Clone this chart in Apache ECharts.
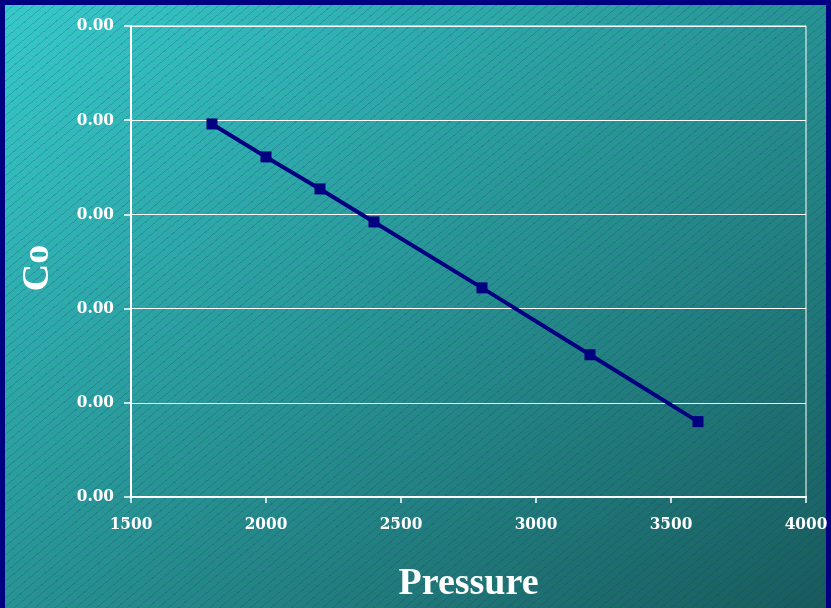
<!DOCTYPE html>
<html>
<head>
<meta charset="utf-8">
<script src="https://cdn.jsdelivr.net/npm/echarts@6/dist/echarts.min.js"></script>
<style>
  html, body { margin: 0; padding: 0; }
  #chart {
    width: 831px; height: 608px;
    background:
      repeating-linear-gradient(140deg, rgba(0,0,0,0) 0px, rgba(0,0,0,0) 5.8px, rgba(20,50,130,0.24) 5.8px, rgba(20,50,130,0.24) 6.6px),
      linear-gradient(to bottom right, #37CACA, #185B5B);
    box-shadow: inset 5px 0 0 #000080, inset -5px 0 0 #000080, inset 0 5px 0 #000080;
  }
</style>
</head>
<body>
<div id="chart"></div>
<script>
const pressure = [1800, 2000, 2200, 2400, 2800, 3200, 3600];
const coValues = [0.00198, 0.001805, 0.001635, 0.00146, 0.00111, 0.000755, 0.0004];
const xTitle = 'Pressure';
const yTitle = 'Co';

const chart = echarts.init(document.getElementById('chart'));
const labelFont = { color: '#ffffff', fontFamily: '"DejaVu Serif Condensed", "DejaVu Serif"', fontWeight: 'bold', fontSize: 17 };
chart.setOption({
  backgroundColor: 'transparent',
  animation: false,
  grid: { left: 131, right: 25, top: 26, bottom: 111, show: true, borderColor: '#ffffff', borderWidth: 1, backgroundColor: 'transparent' },
  xAxis: {
    type: 'value', min: 1500, max: 4000, interval: 500,
    name: xTitle, nameLocation: 'middle', nameGap: 68,
    nameTextStyle: { color: '#ffffff', fontFamily: 'Liberation Serif', fontWeight: 'bold', fontSize: 38 },
    axisLine: { show: true, lineStyle: { color: '#ffffff', width: 2 } },
    axisTick: { show: true, length: 6, lineStyle: { color: '#ffffff', width: 1.5 } },
    axisLabel: Object.assign({ margin: 19, formatter: v => String(v) }, labelFont),
    splitLine: { show: false }
  },
  yAxis: {
    type: 'value', min: 0, max: 0.0025, interval: 0.0005,
    name: yTitle, nameLocation: 'middle', nameGap: 74, nameRotate: 90,
    nameTextStyle: { color: '#ffffff', fontFamily: 'Liberation Serif', fontWeight: 'bold', fontSize: 38, padding: [0, 13, 0, 0] },
    axisLine: { show: true, lineStyle: { color: '#ffffff', width: 2 } },
    axisTick: { show: true, length: 7, lineStyle: { color: '#ffffff', width: 1.5 } },
    axisLabel: Object.assign({ margin: 17, formatter: v => v.toFixed(2) }, labelFont),
    splitLine: { show: true, lineStyle: { color: '#ffffff', width: 1.2 } }
  },
  series: [{
    type: 'line',
    data: pressure.map((p, i) => [p, coValues[i]]),
    symbol: 'rect', symbolSize: 11,
    itemStyle: { color: '#000080' },
    lineStyle: { color: '#000080', width: 4 }
  }]
});
</script>
</body>
</html>
